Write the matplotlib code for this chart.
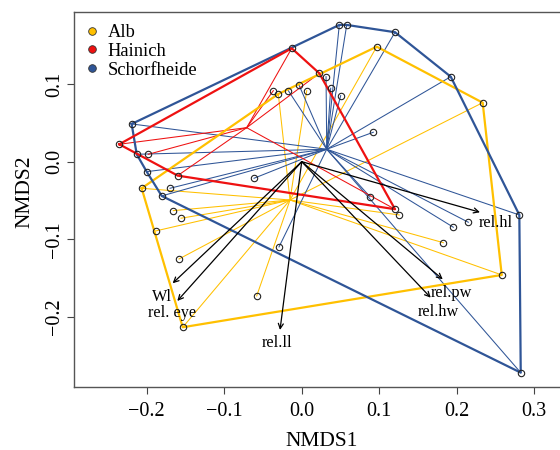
import numpy as np
import matplotlib
matplotlib.use("Agg")
import matplotlib.pyplot as plt
from matplotlib.lines import Line2D

plt.rcParams['font.family'] = ['Liberation Serif', 'DejaVu Serif']

# site scores (NMDS1, NMDS2) per region
alb_x = [-0.2065, 0.0968, 0.2335, 0.2581, -0.1535, -0.1884, -0.1657, -0.1557,
         -0.1583, -0.0581, 0.1827, 0.1259, -0.0302, 0.0065]
alb_y = [-0.0343, 0.1482, 0.0760, -0.1460, -0.2134, -0.0893, -0.0631, -0.0729,
         -0.1254, -0.1731, -0.1044, -0.0687, 0.0872, 0.0915]
hai_x = [-0.2354, -0.0129, 0.0227, 0.1204, -0.1600, -0.1979, -0.0366]
hai_y = [0.0224, 0.1461, 0.1139, -0.0613, -0.0180, 0.0095, 0.0915]
sch_x = [-0.2194, -0.2129, -0.2000, -0.1699, -0.1806, -0.0615, -0.0173, -0.0035,
         0.0314, 0.0374, 0.0485, 0.0581, 0.1204, 0.1923, 0.0503, 0.0924, 0.0881,
         0.1956, 0.2150, 0.2808, 0.2826, -0.0293]
sch_y = [0.0486, 0.0095, -0.0129, -0.0343, -0.0442, -0.0214, 0.0915, 0.0988,
         0.1095, 0.0946, 0.1762, 0.1762, 0.1668, 0.1095, 0.0851, 0.0379, -0.0451,
         -0.0845, -0.0781, -0.0687, -0.2719, -0.1099]

# spider centres
centre_x = [-0.0151, -0.0710, 0.0323]
centre_y = [-0.0494, 0.0438, 0.0160]

regions = ['Alb', 'Hainich', 'Schorfheide']
colors = ['#FFC000', '#EE1111', '#2F5597']

# envfit vectors
vec_names = ['Wl', 'rel. eye', 'rel.ll', 'rel.hl', 'rel.pw', 'rel.hw']
vec_x = [-0.1665, -0.1605, -0.0280, 0.2300, 0.1820, 0.1665]
vec_y = [-0.1567, -0.1795, -0.2169, -0.0652, -0.1516, -0.1753]
lab_x = [-0.1806, -0.1670, -0.0323, 0.2507, 0.1935, 0.1763]
lab_y = [-0.1740, -0.1954, -0.2340, -0.0794, -0.1688, -0.1941]


def hull(px, py):
    pts = sorted(zip(px, py))

    def cross(o, a, b):
        return (a[0]-o[0])*(b[1]-o[1]) - (a[1]-o[1])*(b[0]-o[0])
    lower, upper = [], []
    for p in pts:
        while len(lower) >= 2 and cross(lower[-2], lower[-1], p) <= 0:
            lower.pop()
        lower.append(p)
    for p in reversed(pts):
        while len(upper) >= 2 and cross(upper[-2], upper[-1], p) <= 0:
            upper.pop()
        upper.append(p)
    h = lower[:-1] + upper[:-1]
    h.append(h[0])
    return [p[0] for p in h], [p[1] for p in h]


fig = plt.figure(figsize=(5.6, 4.5), dpi=100)
ax = fig.add_axes([0.1327, 0.1407, 0.8816, 0.8327])

groups = [(alb_x, alb_y), (hai_x, hai_y), (sch_x, sch_y)]
for i in [0, 2, 1]:
    gx, gy = groups[i]
    for x, y in zip(gx, gy):
        ax.plot([centre_x[i], x], [centre_y[i], y], color=colors[i], lw=0.75, zorder=2)
for i in [0, 2, 1]:
    gx, gy = groups[i]
    hx, hy = hull(gx, gy)
    ax.plot(hx, hy, color=colors[i], lw=1.6, zorder=3)

allx = alb_x + hai_x + sch_x
ally = alb_y + hai_y + sch_y
ax.plot(allx, ally, 'o', ms=4.6, mfc='none', mec='#222222', mew=0.8, zorder=5)

for i in range(len(vec_names)):
    ax.annotate('', xy=(vec_x[i], vec_y[i]), xytext=(0, 0),
                arrowprops=dict(arrowstyle='->', color='black', lw=0.9,
                                shrinkA=0, shrinkB=0, mutation_scale=9), zorder=6)
    ax.text(lab_x[i], lab_y[i], vec_names[i], ha='center', va='center',
            fontsize=11.7, zorder=7)

ax.set_xlim(-0.2934, 0.3436)
ax.set_ylim(-0.2900, 0.1929)
ax.set_xticks([-0.2, -0.1, 0.0, 0.1, 0.2, 0.3])
ax.set_yticks([-0.2, -0.1, 0.0, 0.1])
ax.set_xticklabels(['\u22120.2', '\u22120.1', '0.0', '0.1', '0.2', '0.3'])
ax.set_yticklabels(['\u22120.2', '\u22120.1', '0.0', '0.1'], rotation=90, va='center')
ax.tick_params(direction='out', length=4.7, width=0.8, color='#444444',
               labelsize=14.5)
ax.tick_params(axis='x', pad=6.5)
ax.tick_params(axis='y', pad=2.5)
for s in ax.spines.values():
    s.set_color('#555555')
    s.set_linewidth(1.0)
ax.set_xlabel('NMDS1', fontsize=15.5)
ax.set_ylabel('NMDS2', fontsize=15.5)
ax.xaxis.set_label_coords(0.5, -0.122)
ax.yaxis.set_label_coords(-0.081, 0.52)

handles = [Line2D([], [], marker='o', ls='none', ms=5.5, mfc=c, mec='#333333', mew=0.6)
           for c in colors]
ax.legend(handles, regions, loc='upper left', frameon=False, fontsize=13.3,
          handlelength=0.6, handletextpad=0.55, labelspacing=0.1,
          borderaxespad=0.45, borderpad=0.2)

fig.savefig('out.png', dpi=100)
